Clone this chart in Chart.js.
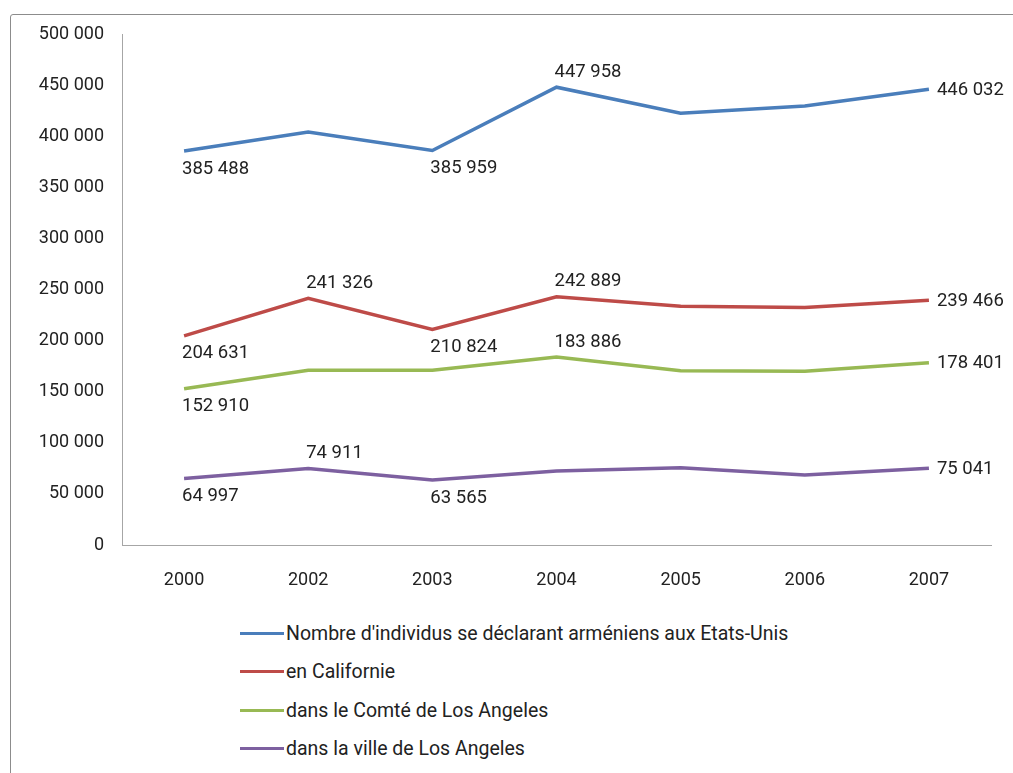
<!DOCTYPE html>
<html>
<head>
<meta charset="utf-8">
<script src="https://cdn.jsdelivr.net/npm/chart.js@4"></script>
<style>
  body { margin: 0; background: #fff; width: 1013px; height: 773px; overflow: hidden; position: relative; }
  #frame { position: absolute; left: 10px; top: 14px; width: 1010px; height: 770px; border: 1px solid #8c8c8c; border-radius: 3px; }
  #wrap { position: absolute; left: 0; top: 0; width: 1013px; height: 610px; }
  #legend { position: absolute; left: 240px; top: 614px; font-family: 'Roboto', sans-serif; font-size: 19.5px; color: #222; }
  #legend div { height: 38.5px; display: flex; align-items: center; }
  #legend span.sw { display: inline-block; width: 44px; height: 3px; margin-right: 2px; }
</style>
</head>
<body>
<div id="frame"></div>
<div id="wrap"><canvas id="chart" width="1013" height="610"></canvas></div>
<div id="legend"></div>
<script>
const years = ['2000', '2002', '2003', '2004', '2005', '2006', '2007'];
const seriesNames = [
  "Nombre d'individus se déclarant arméniens aux Etats-Unis",
  'en Californie',
  'dans le Comté de Los Angeles',
  'dans la ville de Los Angeles'
];
const etatsUnis = [385488, 404000, 385959, 447958, 422500, 429500, 446032];
const californie = [204631, 241326, 210824, 242889, 233500, 232500, 239466];
const comte = [152910, 171000, 171000, 183886, 170500, 170000, 178401];
const ville = [64997, 74911, 63565, 72500, 75500, 68500, 75041];
const yTicks = [0, 50000, 100000, 150000, 200000, 250000, 300000, 350000, 400000, 450000, 500000];

const colors = ['#4a7ebb', '#be4b48', '#98b954', '#7d60a0'];
// where each value label goes (null = no label)
const labelPos = [
  ['below', null, 'below', 'above', null, null, 'right'],
  ['below', 'above', 'below', 'above', null, null, 'right'],
  ['below', null, null, 'above', null, null, 'right'],
  ['below', 'above', 'below', null, null, null, 'right']
];

const fontFamily = "'Roboto', sans-serif";
const fmt = v => String(Math.round(v)).replace(/\B(?=(\d{3})+(?!\d))/g, ' ');

const valueLabels = {
  id: 'valueLabels',
  afterDatasetsDraw(chart) {
    const ctx = chart.ctx;
    ctx.save();
    ctx.font = '18.5px ' + fontFamily;
    ctx.fillStyle = '#222';
    ctx.textAlign = 'left';
    ctx.textBaseline = 'middle';
    chart.data.datasets.forEach((ds, i) => {
      chart.getDatasetMeta(i).data.forEach((pt, j) => {
        const pos = labelPos[i][j];
        if (!pos) return;
        const txt = fmt(ds.data[j]);
        if (pos === 'below') ctx.fillText(txt, pt.x - 2, pt.y + 18);
        else if (pos === 'above') ctx.fillText(txt, pt.x - 2, pt.y - 15);
        else ctx.fillText(txt, pt.x + 8, pt.y + 1);
      });
    });
    ctx.restore();
  }
};

const allSeries = [etatsUnis, californie, comte, ville];

const chart = new Chart(document.getElementById('chart').getContext('2d'), {
  type: 'line',
  data: {
    labels: years,
    datasets: allSeries.map((s, i) => ({
      label: seriesNames[i],
      data: s,
      borderColor: colors[i],
      backgroundColor: colors[i],
      borderWidth: 3.5,
      pointRadius: 0,
      tension: 0,
      fill: false
    }))
  },
  options: {
    responsive: false,
    animation: false,
    layout: { padding: { top: 34, right: 22, left: 0, bottom: 0 } },
    plugins: { legend: { display: false }, tooltip: { enabled: false } },
    scales: {
      x: {
        offset: true,
        grid: { display: false, drawTicks: false },
        border: { color: '#a6a6a6', width: 1 },
        ticks: { color: '#222', font: { family: fontFamily, size: 18 }, padding: 25 },
        afterFit(s) { s.height = 65; }
      },
      y: {
        min: 0,
        max: 500000,
        afterBuildTicks(s) { s.ticks = yTicks.map(v => ({ value: v })); },
        grid: { display: false, drawTicks: false },
        border: { color: '#a6a6a6', width: 1 },
        ticks: { color: '#222', font: { family: fontFamily, size: 18 }, padding: 18, callback: v => fmt(v) },
        afterFit(s) { s.width = 122; }
      }
    }
  },
  plugins: [valueLabels]
});

const legend = document.getElementById('legend');
chart.data.datasets.forEach(ds => {
  const row = document.createElement('div');
  row.innerHTML = `<span class="sw" style="background:${ds.borderColor}"></span>${ds.label}`;
  legend.appendChild(row);
});
</script>
</body>
</html>
